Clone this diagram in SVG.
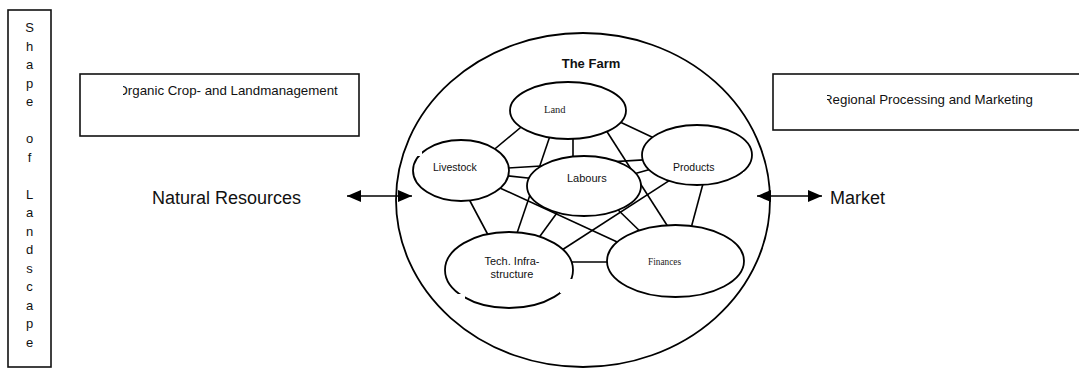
<svg xmlns="http://www.w3.org/2000/svg" width="1079" height="369" viewBox="0 0 1079 369">
<style>
.box{fill:#fff;stroke:#111;stroke-width:1.6}
.ell{fill:#fff;stroke:#000;stroke-width:1.8}
.con line{stroke:#000;stroke-width:1.6}
.arr{stroke:#000;stroke-width:1.4}
.sans{font-family:"Liberation Sans",Arial,sans-serif;fill:#111}
.serif{font-family:"Liberation Serif","Times New Roman",serif;fill:#222}
.gap{fill:#fff}
</style>
<defs>
<marker id="ah" viewBox="0 0 14 12" refX="14" refY="6" markerWidth="14" markerHeight="12" orient="auto-start-reverse" markerUnits="userSpaceOnUse"><path d="M0,0 L14,6 L0,12 z" fill="#000"/></marker>
<clipPath id="clipL"><rect x="123" y="74" width="236" height="62"/></clipPath>
<clipPath id="clipR"><rect x="827" y="74" width="260" height="56"/></clipPath>
</defs>
<rect width="1079" height="369" fill="#fff"/>

<g id="landscape">
<rect class="box" x="8" y="10" width="43" height="357"/>
<g class="sans" font-size="13" text-anchor="middle">
<text x="29.5" y="32">S</text>
<text x="29.5" y="50.5">h</text>
<text x="29.5" y="69">a</text>
<text x="29.5" y="87.5">p</text>
<text x="29.5" y="106">e</text>
<text x="29.5" y="143">o</text>
<text x="29.5" y="161.5">f</text>
<text x="29.5" y="198.5">L</text>
<text x="29.5" y="217">a</text>
<text x="29.5" y="235.5">n</text>
<text x="29.5" y="254">d</text>
<text x="29.5" y="272.5">s</text>
<text x="29.5" y="291">c</text>
<text x="29.5" y="309.5">a</text>
<text x="29.5" y="328">p</text>
<text x="29.5" y="346.5">e</text>
</g>
</g>

<g id="organic">
<rect class="box" x="80" y="74" width="279" height="62"/>
<text class="sans" x="117.5" y="95" font-size="13.3" clip-path="url(#clipL)">Organic Crop- and Landmanagement</text>
</g>

<g id="regional">
<rect class="box" x="773" y="74" width="330" height="56"/>
<text class="sans" x="823" y="104" font-size="13.3" clip-path="url(#clipR)">Regional Processing and Marketing</text>
</g>

<g id="natural-resources">
<text class="sans" x="152" y="204" font-size="18">Natural Resources</text>
</g>
<g id="market">
<text class="sans" x="830" y="204" font-size="18">Market</text>
</g>

<g id="farm">
<ellipse cx="583" cy="200" rx="187" ry="167" fill="#fff" stroke="#000" stroke-width="1.8"/>
<text class="sans" x="591" y="68" font-size="13" font-weight="bold" text-anchor="middle">The Farm</text>
</g>

<g id="connectors">
<line class="arr" x1="347" y1="196" x2="412" y2="196" marker-start="url(#ah)" marker-end="url(#ah)"/>
<line class="arr" x1="757" y1="196" x2="822" y2="196" marker-start="url(#ah)" marker-end="url(#ah)"/>
<g class="con">
<line x1="529.6" y1="120" x2="486.4" y2="156"/>
<line x1="552" y1="130" x2="514" y2="242"/>
<line x1="573" y1="135" x2="573" y2="165"/>
<line x1="612" y1="118.3" x2="662" y2="141.7"/>
<line x1="604" y1="127" x2="672" y2="233"/>
<line x1="500" y1="168.5" x2="652" y2="159.4"/>
<line x1="500" y1="175" x2="537" y2="179"/>
<line x1="490" y1="183.4" x2="627" y2="246.6"/>
<line x1="630" y1="175" x2="655" y2="168"/>
<line x1="675" y1="176.8" x2="555" y2="254.5"/>
<line x1="704" y1="180" x2="690" y2="232"/>
<line x1="466" y1="193.5" x2="491" y2="240.5"/>
<line x1="562" y1="206" x2="535" y2="243"/>
<line x1="612" y1="204" x2="648" y2="239"/>
<line x1="565" y1="262" x2="615" y2="262"/>
</g>
</g>

<g id="land">
<ellipse class="ell" cx="568" cy="110.5" rx="58" ry="28.5"/>
<text class="serif" x="544" y="113" font-size="10.5">Land</text>
</g>
<g id="livestock">
<ellipse class="ell" cx="461" cy="170.5" rx="48" ry="30.5"/>
<rect class="gap" x="413" y="146" width="9" height="10"/>
<text class="sans" x="433" y="171" font-size="10.5">Livestock</text>
</g>
<g id="labours">
<ellipse class="ell" cx="584" cy="186" rx="57" ry="30"/>
<text class="sans" x="567" y="182" font-size="11">Labours</text>
</g>
<g id="products">
<ellipse class="ell" cx="697" cy="155" rx="55" ry="30"/>
<rect class="gap" x="743" y="172" width="11" height="8"/>
<text class="sans" x="673" y="171" font-size="10.5">Products</text>
</g>
<g id="tech">
<ellipse class="ell" cx="509" cy="270" rx="64" ry="38"/>
<rect class="gap" x="560" y="279" width="15" height="14"/>
<rect class="gap" x="455" y="294" width="10" height="8"/>
<text class="sans" font-size="11" text-anchor="middle"><tspan x="512" y="265">Tech. Infra-</tspan><tspan x="512" y="278">structure</tspan></text>
</g>
<g id="finances">
<ellipse class="ell" cx="675.5" cy="261" rx="68.5" ry="36"/>
<text class="serif" x="648" y="265" font-size="9.3">Finances</text>
</g>
</svg>
